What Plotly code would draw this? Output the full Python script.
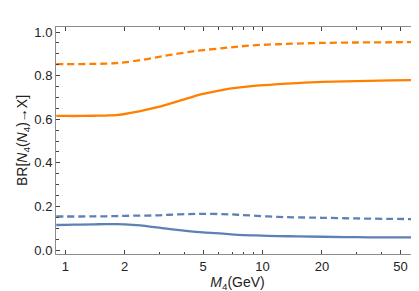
import plotly.graph_objects as go

mass = [0.9, 1.0, 1.2, 1.4, 1.6, 1.8, 2.0, 2.4, 2.9, 3.4, 4.2, 5.0, 6.3, 7.5, 9.3, 12, 15, 20, 30, 45, 62]
orange_dashed = [0.853, 0.853, 0.853, 0.854, 0.855, 0.857, 0.861, 0.871, 0.884, 0.895, 0.908, 0.917, 0.926, 0.933, 0.940, 0.944, 0.947, 0.950, 0.952, 0.953, 0.954]
orange_solid = [0.615, 0.615, 0.615, 0.616, 0.617, 0.619, 0.624, 0.637, 0.654, 0.672, 0.697, 0.716, 0.735, 0.745, 0.754, 0.761, 0.766, 0.771, 0.775, 0.778, 0.780]
blue_dashed = [0.154, 0.154, 0.154, 0.155, 0.155, 0.156, 0.157, 0.158, 0.159, 0.162, 0.165, 0.166, 0.165, 0.162, 0.157, 0.152, 0.150, 0.148, 0.145, 0.143, 0.142]
blue_solid = [0.115, 0.116, 0.117, 0.118, 0.119, 0.119, 0.118, 0.113, 0.104, 0.096, 0.087, 0.081, 0.075, 0.070, 0.067, 0.064, 0.063, 0.061, 0.059, 0.058, 0.058]

x_ticks = [1, 2, 5, 10, 20, 50]
x_minor = [3, 4, 6, 7, 8, 9, 30, 40, 60]
y_ticks = [0, 0.2, 0.4, 0.6, 0.8, 1.0]
y_labels = ["0.0", "0.2", "0.4", "0.6", "0.8", "1.0"]

ORANGE = "#FF8000"
BLUE = "#5E81B5"

fig = go.Figure()
for y, color, dash in [
    (orange_dashed, ORANGE, "7px,4px"),
    (orange_solid, ORANGE, "solid"),
    (blue_dashed, BLUE, "7px,4px"),
    (blue_solid, BLUE, "solid"),
]:
    fig.add_trace(go.Scatter(x=mass, y=y, mode="lines",
                             line=dict(color=color, width=2.3, dash=dash, shape="spline", smoothing=1.0),
                             showlegend=False))

FONT = "Liberation Sans, Arial"
axis_common = dict(
    showline=True, linecolor="#8c8c8c", linewidth=1, mirror="allticks",
    ticks="inside", ticklen=4, tickcolor="#444", tickwidth=1,
    showgrid=False, zeroline=False,
    tickfont=dict(family=FONT, size=13, color="#222"),
)

fig.update_xaxes(
    type="log", range=[-0.047, 1.793],
    tickmode="array", tickvals=x_ticks, ticktext=[str(v) for v in x_ticks],
    minor=dict(tickmode="array", tickvals=x_minor, ticks="inside", ticklen=2.5, tickcolor="#444"),
    title=dict(text="<i>M</i><sub>4</sub>(GeV)", font=dict(family=FONT, size=14, color="#222"), standoff=3),
    **axis_common,
)
fig.update_yaxes(
    range=[-0.018, 1.023],
    tickmode="array", tickvals=y_ticks, ticktext=y_labels,
    minor=dict(dtick=0.05, tick0=0, ticks="inside", ticklen=2.5, tickcolor="#444"),
    title=dict(text="BR[<i>N</i><sub>4</sub>(<i>N</i><sub>4</sub>)→X]", font=dict(family=FONT, size=14, color="#222"), standoff=3),
    **axis_common,
)

fig.update_layout(
    width=419, height=291,
    margin=dict(l=48, r=8, t=19, b=45),
    paper_bgcolor="white", plot_bgcolor="white",
)

fig.write_html("out.html")
